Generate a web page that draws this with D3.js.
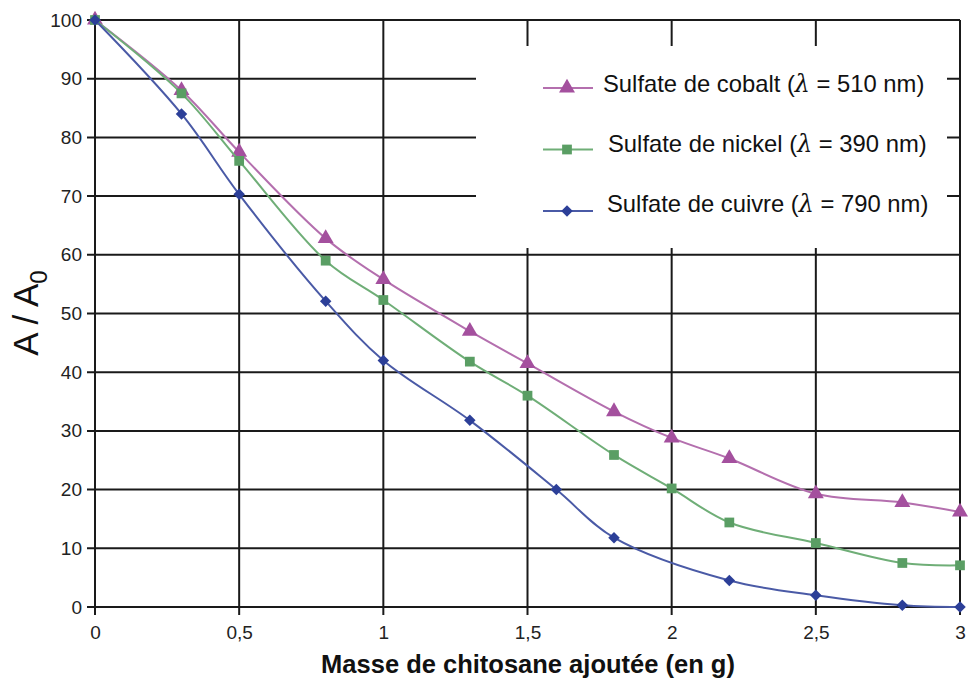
<!DOCTYPE html>
<html>
<head>
<meta charset="utf-8">
<script src="https://cdn.jsdelivr.net/npm/d3@7"></script>
<style>
  body { margin: 0; background: #fff; }
  svg { font-family: "Liberation Sans", Arial, sans-serif; }
</style>
</head>
<body>
<svg id="chart" width="968" height="682"></svg>
<script>
// x tick labels (French decimal comma)
const xTicks = [0, 0.5, 1, 1.5, 2, 2.5, 3]
const xTickLabels = ['0', '0,5', '1', '1,5', '2', '2,5', '3']
const yTicks = [0, 10, 20, 30, 40, 50, 60, 70, 80, 90, 100]

const cobaltX = [0, 0.3, 0.5, 0.8, 1, 1.3, 1.5, 1.8, 2, 2.2, 2.5, 2.8, 3]
const cobaltY = [100, 88, 77.5, 62.8, 55.8, 47, 41.5, 33.3, 28.8, 25.3, 19.3, 17.8, 16.2]

const nickelX = [0, 0.3, 0.5, 0.8, 1, 1.3, 1.5, 1.8, 2, 2.2, 2.5, 2.8, 3]
const nickelY = [100, 87.5, 76, 59, 52.3, 41.8, 36, 25.9, 20.2, 14.4, 10.9, 7.5, 7.1]

const cuivreX = [0, 0.3, 0.5, 0.8, 1, 1.3, 1.6, 1.8, 2.2, 2.5, 2.8, 3]
const cuivreY = [100, 84, 70.3, 52.1, 42, 31.8, 20, 11.8, 4.5, 2, 0.3, 0]

const series = [
    { name: 'Sulfate de cobalt', lambda: '510', xs: cobaltX, ys: cobaltY, line: '#b46fae', fill: '#a4509e', shape: d3.symbolTriangle, size: 110, rot: 0, dx: 60 },
    { name: 'Sulfate de nickel', lambda: '390', xs: nickelX, ys: nickelY, line: '#6fae77', fill: '#5a9e64', shape: d3.symbolSquare, size: 95, rot: 0, dx: 65 },
    { name: 'Sulfate de cuivre', lambda: '790', xs: cuivreX, ys: cuivreY, line: '#4a5aa6', fill: '#2c3f98', shape: d3.symbolSquare, size: 66, rot: 45, dx: 64 }
]

var margin = { top: 20, right: 8, bottom: 75, left: 95 },
    width = 960 - margin.left,
    height = 607 - margin.top;

var svg = d3.select('#chart')
    .append('g')
    .attr('transform', 'translate(' + margin.left + ',' + margin.top + ')');

var xScale = d3.scaleLinear().domain([0, 3]).range([0, width]);
var yScale = d3.scaleLinear().domain([0, 100]).range([height, 0]);

// grid
svg.append('g').selectAll('line')
    .data(yTicks)
    .enter().append('line')
    .attr('x1', -8).attr('x2', width)
    .attr('y1', d => yScale(d)).attr('y2', d => yScale(d))
    .attr('stroke', '#1a1a1a').attr('stroke-width', 2);

svg.append('g').selectAll('line')
    .data(xTicks)
    .enter().append('line')
    .attr('x1', d => xScale(d)).attr('x2', d => xScale(d))
    .attr('y1', 0).attr('y2', height + 8)
    .attr('stroke', '#1a1a1a').attr('stroke-width', 2);

// axes labels via d3 axes (no domain line)
var yAxis = svg.append('g')
    .call(d3.axisLeft(yScale).tickValues(yTicks).tickSize(0).tickPadding(13));
yAxis.select('.domain').remove();
yAxis.selectAll('text').attr('font-size', '19px').attr('fill', '#222')
    .attr('font-family', '"Liberation Sans", Arial, sans-serif');

var xAxis = svg.append('g')
    .attr('transform', 'translate(0,' + height + ')')
    .call(d3.axisBottom(xScale).tickValues(xTicks).tickFormat((d, i) => xTickLabels[i]).tickSize(0).tickPadding(19));
xAxis.select('.domain').remove();
xAxis.selectAll('text').attr('font-size', '19px').attr('fill', '#222')
    .attr('font-family', '"Liberation Sans", Arial, sans-serif');

// legend background hides grid
var legendBox = { x: 476 - margin.left, y: 46 - margin.top, w: 471, h: 202 }
svg.append('rect')
    .attr('x', legendBox.x).attr('y', legendBox.y)
    .attr('width', legendBox.w).attr('height', legendBox.h)
    .attr('fill', '#fff');

// curves
var line = d3.line()
    .x(d => xScale(d[0]))
    .y(d => yScale(d[1]))
    .curve(d3.curveCatmullRom.alpha(0.5));

series.forEach(function (s) {
    var pts = s.xs.map((x, i) => [x, s.ys[i]]);
    svg.append('path')
        .datum(pts)
        .attr('d', line)
        .attr('fill', 'none')
        .attr('stroke', s.line)
        .attr('stroke-width', 2);
    svg.append('g').selectAll('path')
        .data(pts)
        .enter().append('path')
        .attr('d', d3.symbol().type(s.shape).size(s.size))
        .attr('transform', d => 'translate(' + xScale(d[0]) + ',' + yScale(d[1]) + ') rotate(' + s.rot + ')')
        .attr('fill', s.fill);
});

// legend
var legend = svg.append('g');
series.forEach(function (s, i) {
    var ly = 88 - margin.top + i * 61.5;
    var g = legend.append('g').attr('transform', 'translate(' + (543 - margin.left) + ',' + ly + ')');
    g.append('line').attr('x1', 0).attr('x2', 50).attr('y1', 0).attr('y2', 0)
        .attr('stroke', s.line).attr('stroke-width', 2);
    g.append('path').attr('d', d3.symbol().type(s.shape).size(s.size))
        .attr('transform', 'translate(24,0) rotate(' + s.rot + ')').attr('fill', s.fill);
    var t = g.append('text')
        .attr('x', s.dx).attr('y', 4 - i * 1.5)
        .attr('font-size', '23.8px').attr('fill', '#111');
    t.append('tspan').text(s.name + ' (');
    t.append('tspan').attr('font-family', '"DejaVu Serif", serif').attr('font-style', 'italic').text('λ');
    t.append('tspan').text(' = ' + s.lambda + ' nm)');
});

// y title
var yTitle = d3.select('#chart').append('text')
    .attr('transform', 'translate(38,' + 313 + ') rotate(-90)')
    .attr('text-anchor', 'middle')
    .attr('font-size', '35px').attr('fill', '#111');
yTitle.append('tspan').text('A / A');
yTitle.append('tspan').attr('font-size', '24px').attr('dy', 9).text('0');

// x title
d3.select('#chart').append('text')
    .attr('x', 528).attr('y', 673)
    .attr('text-anchor', 'middle')
    .attr('font-size', '25.5px').attr('font-weight', 'bold')
    .attr('fill', '#111')
    .text('Masse de chitosane ajoutée (en g)');
</script>
</body>
</html>
